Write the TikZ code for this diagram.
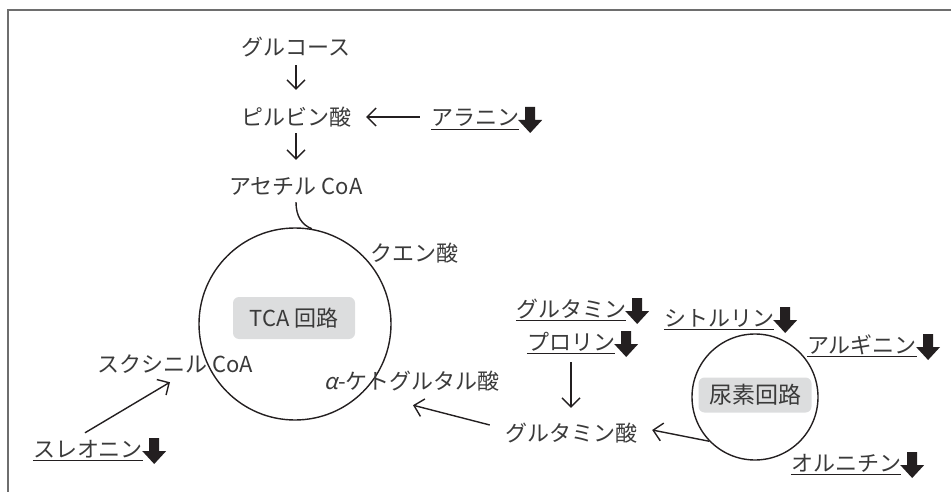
\documentclass[tikz,border=0pt]{standalone}
\usepackage{fontspec}
\setmainfont{Noto Sans CJK JP}
\newfontfamily\slantfont[FakeSlant=0.2]{Noto Sans CJK JP}
\usetikzlibrary{arrows.meta}
\definecolor{ink}{HTML}{231F20}
\definecolor{txt}{HTML}{3A3A3A}
\definecolor{boxgray}{HTML}{DCDDDE}
\definecolor{framec}{HTML}{6E6E6E}
\tikzset{
  lbl/.style={inner sep=0pt, anchor=base, text height=16pt, text depth=4pt, text=txt, font=\fontsize{22}{26}\selectfont},
  flow/.style={line width=1.4pt, draw=ink, -{Straight Barb[length=9pt,width=18pt,line width=1.4pt]}},
  cyc/.style={circle, draw=ink, line width=1.4pt, inner sep=0pt},
  cycbox/.style={fill=boxgray, rounded corners=6pt, inner sep=0pt, text=txt, font=\fontsize{22}{26}\selectfont},
  uline/.style={line width=0.8pt, draw=ink},
  downarr/.pic={\fill[ink] (-5,-13) -- (5,-13) -- (5,0) -- (12,0) -- (0,13) -- (-12,0) -- (-5,0) -- cycle;}
}
\newcommand{\dropmark}[1]{%
  \draw[uline] ([yshift=1pt]#1.south west) -- ([yshift=1pt]#1.south east);
  \pic at ([xshift=11pt,yshift=6pt]#1.base east) {downarr};}
\begin{document}
\begin{tikzpicture}[x=1pt,y=-1pt]
\useasboundingbox (0,0) rectangle (951,492);
\draw[framec, line width=1.2pt] (8,492) -- (8,10) -- (951,10);

% TCA cycle
\node[cyc, minimum size=192pt] (tca) at (295,324) {};
\node[cycbox, minimum width=122pt, minimum height=42pt] (tcabox) at (294,318) {TCA 回路};
% urea cycle
\node[cyc, minimum size=126pt] (urea) at (755,397) {};
\node[cycbox, minimum width=113pt, minimum height=35pt, font=\fontsize{23}{27}\selectfont] (ureabox) at (755,395) {尿素回路};

% texts
\node[lbl] (glc) at (296,56) {グルコース};
\node[lbl] (pyr) at (296,126) {ピルビン酸};
\node[lbl] (acoa) at (296,194) {アセチル CoA};
\node[lbl] (ala) at (475,126) {アラニン};
\node[lbl] (cit) at (414,261) {クエン酸};
\node[lbl] (suc) at (175,372) {スクシニル CoA};
\node[lbl] (akg) at (412,389) {{\slantfont α}-ケトグルタル酸};
\node[lbl] (thr) at (88,457) {スレオニン};
\node[lbl] (glu) at (571,441) {グルタミン酸};
\node[lbl] (gln) at (571,317) {グルタミン};
\node[lbl] (pro) at (571,350) {プロリン};
\node[lbl] (citr) at (719,326) {シトルリン};
\node[lbl] (arg) at (862,353) {アルギニン};
\node[lbl] (orn) at (846,471) {オルニチン};

% underlines and decrease marks
\dropmark{ala}
\dropmark{thr}
\dropmark{gln}
\dropmark{pro}
\dropmark{citr}
\dropmark{arg}
\dropmark{orn}

% connectors
\draw[flow] ([yshift=-5pt]glc.south) -- ([yshift=20pt]pyr.north);
\draw[flow] ([yshift=-3pt]pyr.south) -- ([yshift=18pt]acoa.north);
\draw[flow] ([xshift=-11pt,yshift=9pt]ala.base west) -- ([xshift=15pt,yshift=9pt]pyr.base east);
\draw[line width=1.4pt, draw=ink] ([yshift=-4pt]acoa.south) .. controls +(0,14) and +(-10,-4) .. (tca.80);
\draw[flow] ([xshift=-3pt,yshift=8pt]thr.north) -- ([xshift=-5pt,yshift=-6pt]suc.south);
\draw[flow] ([xshift=-15pt,yshift=16pt]glu.base west) -- ([xshift=1pt,yshift=-12pt]akg.south);
\draw[flow] ([yshift=-8pt]pro.south) -- ([yshift=17pt]glu.north);
\draw[flow] (urea.224) -- ([xshift=15pt,yshift=11pt]glu.base east);
\end{tikzpicture}
\end{document}
